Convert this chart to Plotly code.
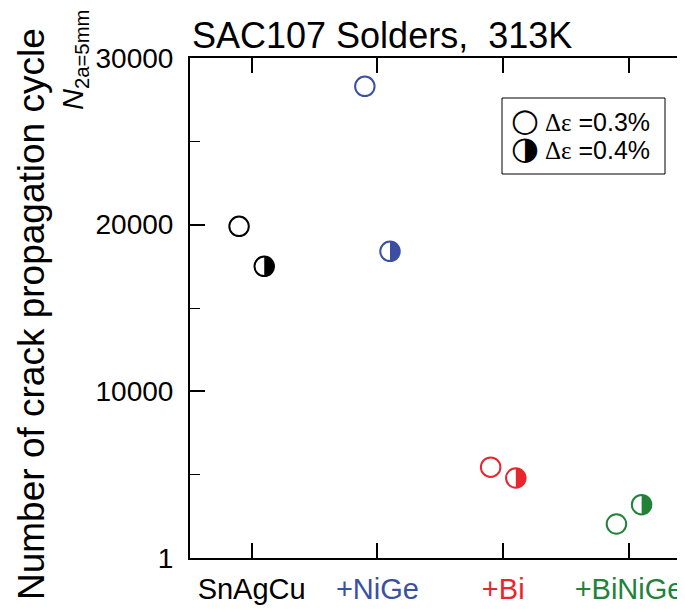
import numpy as np
import plotly.graph_objects as go

# ---- data ----
categories = ["SnAgCu", "+NiGe", "+Bi", "+BiNiGe"]
cat_colors = ["#000000", "#3B4FA3", "#E8262B", "#23823A"]
cycles_03 = [19900, 28300, 5450, 2040]   # Δε = 0.3 %
cycles_04 = [17500, 18400, 4800, 3200]   # Δε = 0.4 %
y_tickvals = [0, 10000, 20000, 30000]
y_ticktext = ["1", "10000", "20000", "30000"]
y_minor = [5000, 15000, 25000]

FONT = "Liberation Sans, Arial, sans-serif"
# the page body has an 8 px margin; size the figure so it fills the 685x610 window
OX, OY = 8, 8
W, H = 685 - OX, 610 - OY
ML, MR, MT, MB = 190 - OX, 0, 58 - OY, 52
XR = [-0.49, 3.445]
YR = [0, 30000]

pw = W - ML - MR
ph = H - MT - MB

idx = np.arange(len(categories))
off = 0.1
MSIZE = 19.5

fig = go.Figure()

# filled right halves of the 0.4 % markers (half-disc in data units from marker radius)
r_px = MSIZE / 2
rx = r_px * (XR[1] - XR[0]) / pw
ry = r_px * (YR[1] - YR[0]) / ph
t = np.linspace(-np.pi / 2, np.pi / 2, 40)
for xc, yc, col in zip(idx + off, cycles_04, cat_colors):
    fig.add_trace(go.Scatter(
        x=xc + rx * np.cos(t), y=yc + ry * np.sin(t), mode="lines", fill="toself",
        fillcolor=col, line=dict(width=0, color=col), showlegend=False, hoverinfo="skip",
    ))

# open circles (0.3 %)
fig.add_trace(go.Scatter(
    x=idx - off, y=cycles_03, mode="markers", showlegend=False,
    marker=dict(symbol="circle", size=MSIZE, color="rgba(255,255,255,0)",
                line=dict(width=2, color=cat_colors)),
))
# outlines of half-filled circles (0.4 %)
fig.add_trace(go.Scatter(
    x=idx + off, y=cycles_04, mode="markers", showlegend=False,
    marker=dict(symbol="circle", size=MSIZE, color="rgba(255,255,255,0)",
                line=dict(width=2, color=cat_colors)),
))

ticktext_x = [f'<span style="color:{c}">{tt}</span>' for tt, c in zip(categories, cat_colors)]

fig.update_layout(
    width=W, height=H,
    margin=dict(l=ML, r=MR, t=MT, b=MB),
    plot_bgcolor="white", paper_bgcolor="white",
    font=dict(family=FONT, color="black"),
    xaxis=dict(
        range=XR, tickmode="array", tickvals=list(idx), ticktext=ticktext_x,
        showline=True, linewidth=2, linecolor="black", mirror="ticks",
        ticks="inside", ticklen=15, tickwidth=2, tickcolor="black", automargin=False,
        ticklabelstandoff=4,
        showgrid=False, zeroline=False, tickfont=dict(size=29, family=FONT),
    ),
    yaxis=dict(
        range=YR, tickmode="array", tickvals=y_tickvals, ticktext=y_ticktext,
        showline=True, linewidth=2, linecolor="black", automargin=False,
        ticks="inside", ticklen=15, tickwidth=2, tickcolor="black", ticklabelstandoff=9,
        minor=dict(tickmode="array", tickvals=y_minor, ticks="inside", ticklen=10,
                   tickwidth=1, tickcolor="black", showgrid=False),
        showgrid=False, zeroline=False, tickfont=dict(size=28, family=FONT),
    ),
)


def px_x(p):
    return (p - OX - ML) / pw


def px_y(p):
    return (H + OY - MB - p) / ph


ann = []
# title
ann.append(dict(xref="paper", yref="paper", x=px_x(190), y=1.0, xanchor="left", yanchor="bottom",
                text="SAC107 Solders,  313K", showarrow=False,
                font=dict(size=36, family=FONT, color="black")))
# y-axis title
ann.append(dict(xref="paper", yref="paper", x=px_x(31), y=px_y(314), xanchor="center", yanchor="middle",
                text="Number of crack propagation cycle", textangle=-90, showarrow=False,
                font=dict(size=37, family=FONT, color="black")))
ann.append(dict(xref="paper", yref="paper", x=px_x(75), y=px_y(60), xanchor="center", yanchor="middle",
                text="<i>N</i><sub>2a=5mm</sub>", textangle=-90, showarrow=False,
                font=dict(size=29, family=FONT, color="black")))
# legend: symbol + label on each of two lines (~28 px apart)
row = ('<span style="font-family:DejaVu Sans;font-size:32px">{}</span> '
       '<span style="font-size:25px"><span style="font-family:Liberation Serif">Δε</span> ={}</span>')
ann.append(dict(xref="paper", yref="paper", x=px_x(509), y=px_y(134), xanchor="left", yanchor="middle",
                align="left", text=row.format("\u25CB", "0.3%") + "<br>" + row.format("\u25D1", "0.4%"),
                showarrow=False, font=dict(size=21.5, family=FONT, color="black")))
fig.update_layout(annotations=ann)

fig.add_shape(type="rect", xref="paper", yref="paper",
              x0=px_x(502), x1=px_x(665), y0=px_y(174), y1=px_y(98),
              line=dict(color="black", width=1), fillcolor="white", layer="below")

fig.write_html("out.html")
